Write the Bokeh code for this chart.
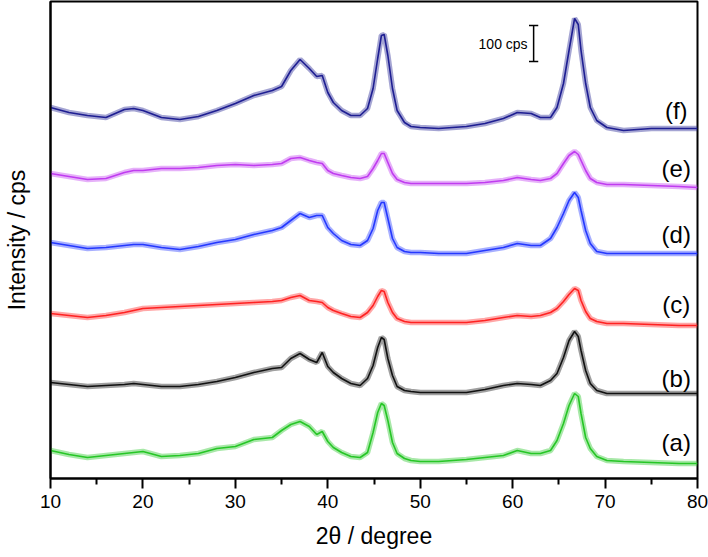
from bokeh.plotting import figure
from bokeh.models import Range1d, FixedTicker
from bokeh.core.properties import value
from bokeh.embed import file_html
from bokeh.resources import INLINE

# 2-theta positions (degree) at which the patterns were read
two_theta = [10, 12, 14, 16, 18, 19, 20, 22, 24, 26,
             28, 30, 32, 34, 35, 36, 37, 38, 38.8, 39.4,
             40, 40.6, 41.5, 42.5, 43.5, 44.3, 44.9, 45.4, 45.8, 46.1,
             46.5, 47, 47.5, 48.3, 49, 50, 52, 55, 57, 59,
             60.5, 62, 63, 64.1, 64.8, 65.5, 66.1, 66.7, 67.1, 67.4,
             67.9, 68.4, 69.1, 70.2, 72, 75, 78, 80]

# stacked intensities (arbitrary units, 36 units = 100 cps)
pattern_a = [28, 24, 21, 23, 25, 26, 27, 22, 23, 25,
             30, 32, 39, 41, 48, 54, 57, 52, 44, 47,
             37, 31, 26, 22, 21, 26, 46, 66, 75, 73,
             58, 36, 25, 20, 18, 17, 17, 19, 21, 23,
             28, 25, 25, 28, 38, 55, 73, 85, 82, 65,
             41, 30, 22, 18, 17, 16, 15, 15]
pattern_b = [96, 94, 92, 93, 94, 95, 94, 92, 92, 94,
             97, 101, 106, 110, 111, 120, 125, 119, 116, 126,
             112, 106, 100, 95, 93, 100, 113, 131, 141, 139,
             120, 103, 92, 88, 87, 86, 86, 86, 89, 93,
             95, 94, 93, 98, 105, 121, 138, 147, 142, 128,
             108, 95, 88, 85, 85, 85, 85, 85]
pattern_c = [165, 163, 161, 163, 166, 168, 170, 171, 172, 173,
             174, 175, 176, 177, 178, 181, 183, 178, 177, 176,
             171, 168, 165, 162, 161, 166, 173, 182, 188, 187,
             176, 166, 160, 157, 156, 156, 156, 156, 158, 161,
             163, 162, 163, 166, 170, 177, 184, 190, 188, 178,
             167, 160, 157, 155, 155, 154, 153, 153]
pattern_d = [236, 233, 230, 231, 233, 234, 234, 231, 229, 232,
             236, 239, 244, 248, 251, 258, 265, 261, 263, 263,
             251, 245, 238, 234, 233, 238, 250, 268, 276, 276,
             260, 240, 231, 227, 226, 226, 225, 225, 228, 231,
             235, 233, 233, 240, 251, 265, 278, 286, 281, 268,
             248, 235, 227, 225, 225, 225, 225, 225]
pattern_e = [305, 302, 299, 300, 306, 308, 308, 310, 310, 311,
             313, 314, 313, 314, 315, 320, 321, 318, 316, 315,
             308, 305, 303, 301, 300, 302, 310, 318, 325, 325,
             316, 305, 299, 296, 295, 295, 295, 295, 296, 298,
             301, 299, 298, 300, 305, 315, 323, 327, 324, 318,
             308, 300, 296, 294, 294, 293, 292, 291]
pattern_f = [371, 366, 363, 361, 369, 370, 368, 361, 359, 362,
             368, 375, 383, 388, 392, 408, 419, 410, 402, 403,
             386, 376, 368, 363, 363, 370, 390, 420, 443, 444,
             423, 390, 368, 356, 352, 351, 350, 352, 355, 360,
             366, 365, 361, 361, 371, 395, 428, 460, 454, 428,
             395, 371, 358, 351, 348, 350, 350, 350]

patterns = [pattern_a, pattern_b, pattern_c, pattern_d, pattern_e, pattern_f]
labels = ["(a)", "(b)", "(c)", "(d)", "(e)", "(f)"]
colors = ["#26c626", "#111111", "#ff2222", "#2438ff", "#c03cf0", "#1e1e92"]
label_x = 77.7
label_y = [36, 100, 174, 244, 310, 368]

# scale bar (100 cps)
bar_x = 62.27
bar_bottom = 417
bar_len = 36
bar_cap = 0.5

FONT = "Liberation Sans"

p = figure(width=708, height=557, output_backend="svg", toolbar_location=None,
           x_range=Range1d(10, 80), y_range=Range1d(0, 477),
           min_border_left=49, min_border_right=11, min_border_top=1,
           min_border_bottom=79)
p.xgrid.visible = False
p.ygrid.visible = False
p.outline_line_color = "black"
p.outline_line_width = 2
p.background_fill_color = "white"
p.border_fill_color = "white"

for ys, col in zip(patterns, colors):
    p.line(two_theta, ys, line_color=col, line_width=5.5, line_alpha=0.4)
    p.line(two_theta, ys, line_color=col, line_width=1.6, line_alpha=1.0)

p.text(x=[label_x] * len(labels), y=label_y, text=labels,
       text_font=value(FONT), text_font_size="24px",
       text_align="center", text_baseline="middle", text_color="black")

p.segment(x0=[bar_x, bar_x - bar_cap, bar_x - bar_cap],
          y0=[bar_bottom, bar_bottom, bar_bottom + bar_len],
          x1=[bar_x, bar_x + bar_cap, bar_x + bar_cap],
          y1=[bar_bottom + bar_len, bar_bottom, bar_bottom + bar_len],
          line_color="black", line_width=1.5)
p.text(x=[bar_x - 0.65], y=[bar_bottom + bar_len / 2], text=["100 cps"],
       text_font=value(FONT), text_font_size="14px",
       text_align="right", text_baseline="middle", text_color="black")

xa = p.xaxis[0]
xa.ticker = FixedTicker(ticks=[10, 20, 30, 40, 50, 60, 70, 80],
                        minor_ticks=[15, 25, 35, 45, 55, 65, 75])
xa.axis_label = "2θ / degree"
xa.axis_label_text_font = FONT
xa.axis_label_text_font_size = "23px"
xa.axis_label_text_font_style = "normal"
xa.axis_label_text_color = "black"
xa.axis_label_standoff = 12
xa.major_label_text_font = FONT
xa.major_label_text_font_size = "19px"
xa.major_label_text_color = "black"
xa.major_label_standoff = 6
xa.major_tick_out = 10
xa.major_tick_in = 0
xa.minor_tick_out = 6
xa.minor_tick_in = 0
xa.axis_line_width = 2
xa.major_tick_line_width = 2
xa.minor_tick_line_width = 2

ya = p.yaxis[0]
ya.ticker = FixedTicker(ticks=[])
ya.axis_label = "Intensity / cps"
ya.axis_label_text_font = FONT
ya.axis_label_text_font_size = "23px"
ya.axis_label_text_font_style = "normal"
ya.axis_label_text_color = "black"
ya.axis_label_standoff = 21
ya.major_tick_out = 0
ya.major_tick_in = 0
ya.minor_tick_out = 0
ya.minor_tick_in = 0
ya.axis_line_width = 2

open("out.html", "w").write(file_html(p, INLINE))
